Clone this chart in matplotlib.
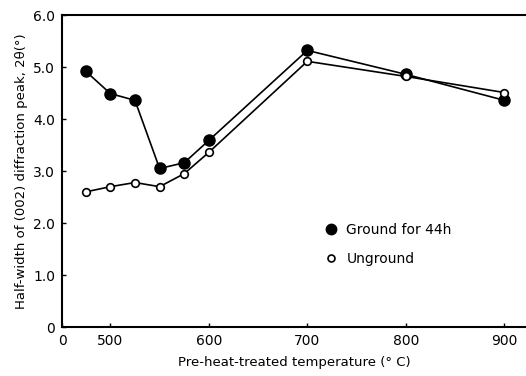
import matplotlib
matplotlib.use('Agg')
import matplotlib.pyplot as plt
from matplotlib.lines import Line2D

# pre-heat-treated temperature (deg C)
temps = [475, 500, 525, 550, 575, 600, 700, 800, 900]
# half-width of (002) peak, 2theta (deg)
ground = [4.92, 4.49, 4.36, 3.05, 3.16, 3.59, 5.32, 4.86, 4.36]
unground = [2.60, 2.70, 2.78, 2.70, 2.95, 3.36, 5.11, 4.82, 4.51]

xticks = [451, 500, 600, 700, 800, 900]
xticklabels = ['0', '500', '600', '700', '800', '900']
yticks = [0, 1, 2, 3, 4, 5, 6]
yticklabels = ['0', '1.0', '2.0', '3.0', '4.0', '5.0', '6.0']

fig = plt.figure(figsize=(5.26, 3.76), dpi=100)
ax = fig.add_axes([0.118, 0.130, 0.882, 0.830])

ax.plot(temps, ground, '-', color='black', lw=1.2, marker='o', ms=8,
        mfc='black', mec='black', zorder=3)
ax.plot(temps, unground, '-', color='black', lw=1.2, marker='o', ms=5.5,
        mfc='white', mec='black', mew=1.2, zorder=4)

ax.set_xlim(451, 922)
ax.set_ylim(0, 6.0)
ax.set_xticks(xticks)
ax.set_xticklabels(xticklabels)
ax.set_yticks(yticks)
ax.set_yticklabels(yticklabels)
ax.tick_params(direction='in', length=3, width=1, labelsize=10, pad=5)

for s in ['left', 'bottom', 'top']:
    ax.spines[s].set_linewidth(1.5)
ax.spines['right'].set_visible(False)

ax.set_xlabel('Pre-heat-treated temperature (° C)', fontsize=9.5, labelpad=6)
ax.set_ylabel('Half-width of (002) diffraction peak, 2θ(°)', fontsize=9.5, labelpad=4)

handles = [
    Line2D([], [], ls='none', marker='o', ms=7.5, mfc='black', mec='black'),
    Line2D([], [], ls='none', marker='o', ms=5, mfc='white', mec='black', mew=1.2),
]
ax.legend(handles, ['Ground for 44h', 'Unground'], loc='upper left',
          bbox_to_anchor=(0.538, 0.375), frameon=False, fontsize=10,
          handletextpad=0.6, labelspacing=1.1, handlelength=1.0)

fig.savefig('out.png', dpi=100)
